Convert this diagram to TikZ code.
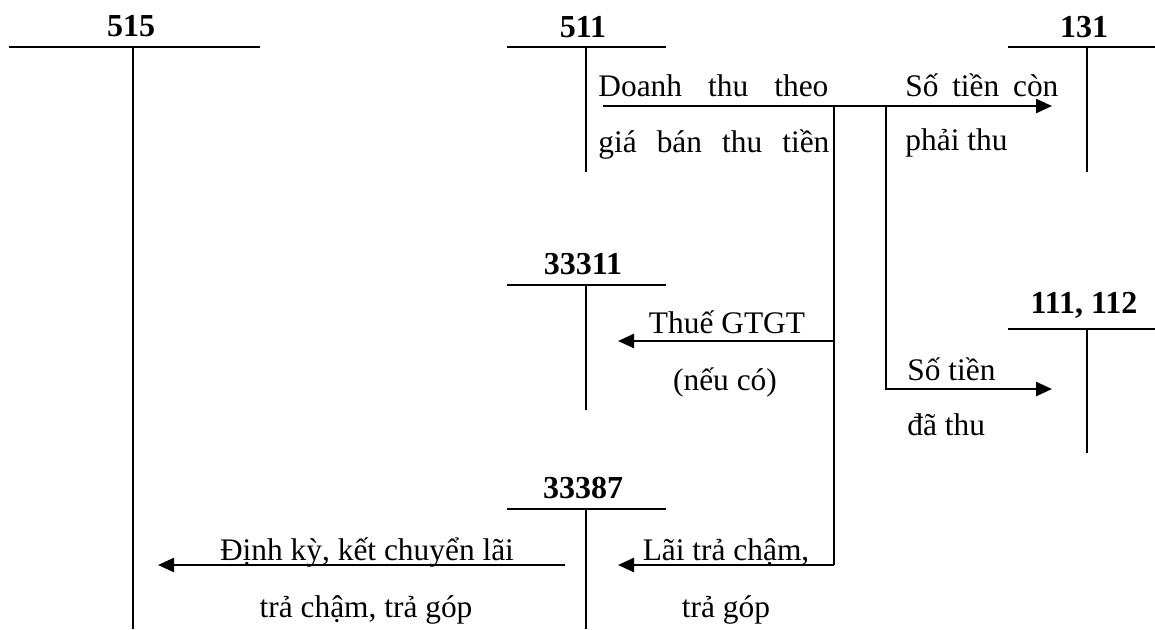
\documentclass[tikz,border=0pt]{standalone}
\usepackage{fontspec}
\setmainfont{Liberation Serif}
\usetikzlibrary{arrows.meta}
\tikzset{
  tline/.style={line width=1pt},
  flow/.style={line width=1.2pt,-{Triangle[length=8pt,width=7pt]}},
  flowline/.style={line width=1.2pt},
  lbl/.style={inner sep=0pt,anchor=base,font=\fontsize{16pt}{18pt}\selectfont\bfseries},
  txt/.style={inner sep=0pt,font=\fontsize{15.7pt}{18pt}\selectfont},
}
\begin{document}
\begin{tikzpicture}[x=0.5pt,y=-0.5pt]
\useasboundingbox (0,0) rectangle (1155,629);
% T-accounts
\node[lbl] (l515) at (131,36) {515};
\draw[tline] (9,47) -- (260,47) (133,47) -- (133,629);
\node[lbl] (l511) at (583,37) {511};
\draw[tline] (507,47) -- (666,47) (586,47) -- (586,172);
\node[lbl] (l131) at (1084,37) {131};
\draw[tline] (1008,47) -- (1155,47) (1087,47) -- (1087,172);
\node[lbl] (l33311) at (583,274) {33311};
\draw[tline] (507,285) -- (666,285) (586,285) -- (586,410);
\node[lbl] (l111) at (1084,313) {111, 112};
\draw[tline] (1008,329) -- (1155,329) (1087,329) -- (1087,453);
\node[lbl] (l33387) at (583,498) {33387};
\draw[tline] (507,509) -- (666,509) (586,509) -- (586,629);
% coordinates
\coordinate (s511) at (603,106);
\coordinate (e131) at (1052,106);
\coordinate (j1) at (834,106);
\coordinate (j2) at (886,106);
\coordinate (j1t) at (834,341);
\coordinate (e33311) at (618,341);
\coordinate (j1b) at (834,565);
\coordinate (e33387) at (618,565);
\coordinate (j2b) at (886,389);
\coordinate (e111) at (1052,389);
\coordinate (s33387) at (565,565);
\coordinate (e515) at (158,565);
% flows
\draw[flow] (s511) -- (e131);
\draw[flowline] (j1) -- (j1b);
\draw[flow] (j1b) -- (e33387);
\draw[flow] (j1t) -- (e33311);
\draw[flow] (j2) |- (e111);
\draw[flow] (s33387) -- (e515);
% texts
\node[txt,anchor=base west] (t1) at (598,96) {\makebox[115pt][s]{Doanh thu theo}};
\node[txt,anchor=base west] (t2) at (598,152) {\makebox[115.5pt][s]{giá bán thu tiền}};
\node[txt,anchor=base west] (t3) at (905,96) {\makebox[76.5pt][s]{Số tiền còn}};
\node[txt,anchor=base west] (t4) at (905,150) {phải thu};
\node[txt,anchor=base west] (t5) at (907,380) {Số tiền};
\node[txt,anchor=base west] (t6) at (907,435) {đã thu};
\node[txt,anchor=base] (t7) at (727,333) {Thuế GTGT};
\node[txt,anchor=base] (t8) at (725,390) {(nếu có)};
\node[txt,anchor=base] (t9) at (367,560) {Định kỳ, kết chuyển lãi};
\node[txt,anchor=base] (t10) at (366,617) {trả chậm, trả góp};
\node[txt,anchor=base] (t11) at (726,560) {Lãi trả chậm,};
\node[txt,anchor=base] (t12) at (726,617) {trả góp};
\end{tikzpicture}
\end{document}
